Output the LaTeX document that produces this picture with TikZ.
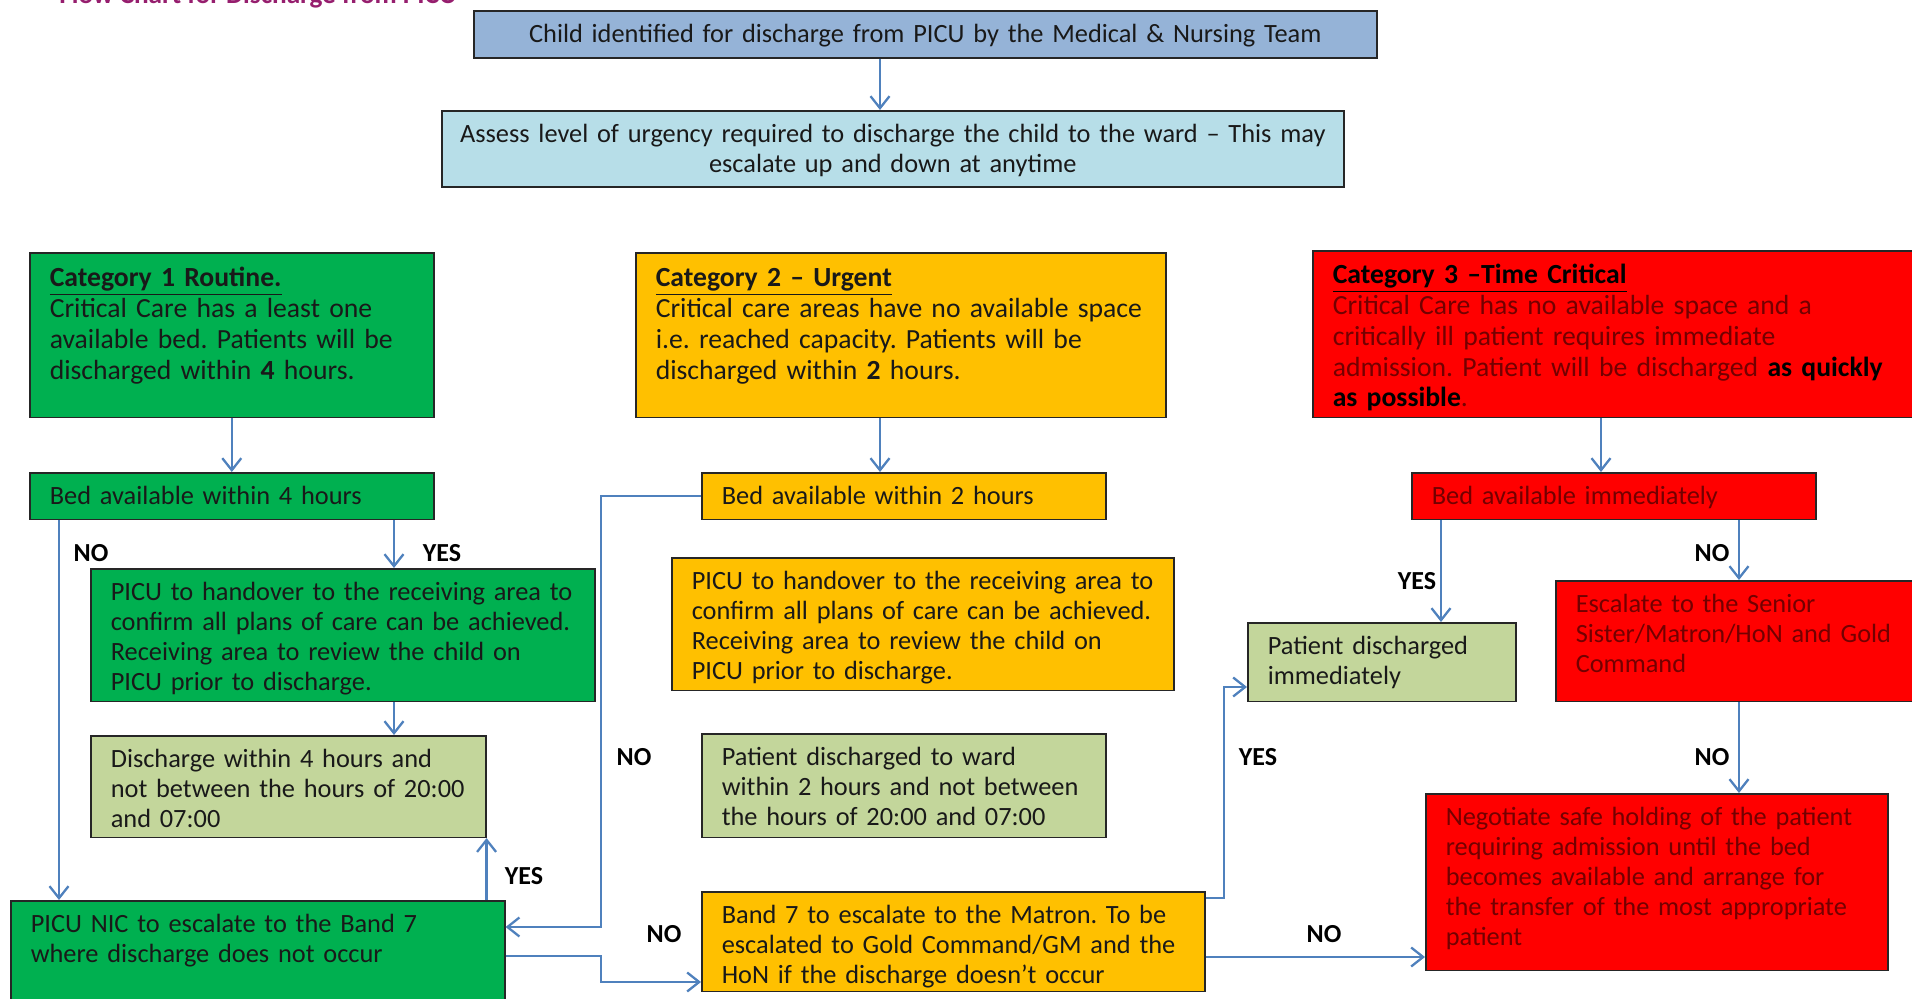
\documentclass[tikz,border=0pt]{standalone}
\usepackage{fontspec}
\setmainfont{Carlito}
\usetikzlibrary{arrows.meta}
\frenchspacing

\definecolor{topblue}{RGB}{149,179,215}
\definecolor{paleblue}{RGB}{183,222,232}
\definecolor{catgreen}{RGB}{0,176,80}
\definecolor{catorange}{RGB}{255,192,0}
\definecolor{catred}{RGB}{255,0,0}
\definecolor{paleolive}{RGB}{195,214,155}
\definecolor{flowblue}{RGB}{79,129,189}
\definecolor{titlepurple}{RGB}{150,30,110}
\definecolor{darkred}{RGB}{115,0,0}

\newcommand{\boxlines}[1]{\begin{tabular}[t]{@{}l@{}}#1\end{tabular}}

\tikzset{
	box/.style={draw=black!85,line width=0.9pt,anchor=north west,align=left,
		inner xsep=0.4cm,inner ysep=0.1cm,text height=0.53cm,text=black!90,
		font=\fontsize{15}{17.1}\selectfont},
	gbox/.style={box,fill=catgreen},
	obox/.style={box,fill=catorange},
	rbox/.style={box,fill=catred,text=darkred},
	lbox/.style={box,fill=paleolive},
	catfont/.style={font=\fontsize{15.75}{17.5}\selectfont},
	lbl/.style={font=\fontsize{14.8}{17}\selectfont\bfseries,inner sep=0pt},
	link/.style={->,draw=flowblue,line width=1.3pt}
}

\begin{document}
\begin{tikzpicture}[>/.tip={Straight Barb[length=2.4mm,width=3.8mm]}]
	\path[use as bounding box,fill=white] (0,0) rectangle (38.24,19.96);
	\draw (1.18,19.88) node(title) [anchor=base west,text=titlepurple,font=\fontsize{15.5}{17}\selectfont\bfseries,inner sep=0pt] {Flow Chart for Discharge from PICU};

	\draw (9.46,19.76) node(top) [box,fill=topblue,align=center,inner xsep=0.1cm,text width=17.86cm,text depth=0.22cm] {Child identified for discharge from PICU by the Medical \& Nursing Team};
	\draw (8.82,17.76) node(assess) [box,fill=paleblue,align=center,inner xsep=0.1cm,text width=17.84cm,text depth=0.80cm] {Assess level of urgency required to discharge the child to the ward -- This may\\escalate up and down at anytime};

	\draw (0.58,14.92) node(cat1) [gbox,catfont,text width=7.28cm,text height=0.58cm,text depth=2.51cm] {\boxlines{\underline{\textbf{Category 1 Routine.}}\\Critical Care has a least one\\available bed. Patients will be\\discharged within \textbf{4} hours.}};
	\draw (12.7,14.92) node(cat2) [obox,catfont,text width=9.8cm,text height=0.58cm,text depth=2.51cm] {\boxlines{\underline{\textbf{Category 2 -- Urgent}}\\Critical care areas have no available space\\i.e. reached capacity. Patients will be\\discharged within \textbf{2} hours.}};
	\draw (26.24,14.96) node(cat3) [rbox,catfont,text width=11.66cm,text height=0.56cm,text depth=2.57cm] {\boxlines{\textcolor{black}{\underline{\textbf{Category 3 --Time Critical}}}\\Critical Care has no available space and a\\critically ill patient requires immediate\\admission. Patient will be discharged \textcolor{black}{\textbf{as quickly}}\\\textcolor{black}{\textbf{as possible}}.}};

	\draw (0.58,10.52) node(bed1) [gbox,text width=7.28cm,text depth=0.20cm] {\boxlines{Bed available within 4 hours}};
	\draw (14.02,10.52) node(bed2) [obox,text width=7.28cm,text depth=0.20cm] {\boxlines{Bed available within 2 hours}};
	\draw (28.22,10.52) node(bed3) [rbox,text width=7.28cm,text depth=0.20cm] {\boxlines{Bed available immediately}};

	\draw (1.8,8.6) node(hand1) [gbox,text width=9.28cm,text depth=1.92cm] {\boxlines{PICU to handover to the receiving area to\\confirm all plans of care can be achieved.\\Receiving area to review the child on\\PICU prior to discharge.}};
	\draw (1.8,5.26) node(disc4) [lbox,text width=7.1cm,text depth=1.30cm] {\boxlines{Discharge within 4 hours and\\not between the hours of 20:00\\and 07:00}};
	\draw (0.2,1.96) node(nic) [gbox,text width=9.08cm,text depth=1.68cm] {\boxlines{PICU NIC to escalate to the Band 7\\where discharge does not occur}};

	\draw (13.42,8.82) node(hand2) [obox,text width=9.24cm,text depth=1.92cm] {\boxlines{PICU to handover to the receiving area to\\confirm all plans of care can be achieved.\\Receiving area to review the child on\\PICU prior to discharge.}};
	\draw (14.02,5.3) node(pat2) [lbox,text width=7.28cm,text depth=1.34cm] {\boxlines{Patient discharged to ward\\within 2 hours and not between\\the hours of 20:00 and 07:00}};
	\draw (14.02,2.14) node(band7) [obox,text width=9.26cm,text depth=1.26cm] {\boxlines{Band 7 to escalate to the Matron. To be\\escalated to Gold Command/GM and the\\HoN if the discharge doesn't occur}};

	\draw (24.94,7.52) node(patimm) [lbox,text width=4.56cm,text depth=0.84cm] {\boxlines{Patient discharged\\immediately}};
	\draw (31.1,8.36) node(escal) [rbox,text width=6.8cm,text depth=1.68cm] {\boxlines{Escalate to the Senior\\Sister/Matron/HoN and Gold\\Command}};
	\draw (28.5,4.1) node(negot) [rbox,text width=8.44cm,text depth=2.80cm] {\boxlines{Negotiate safe holding of the patient\\requiring admission until the bed\\becomes available and arrange for\\the transfer of the most appropriate\\patient}};

	\coordinate (cA) at (1.18,0);
	\coordinate (cB) at (7.88,0);
	\coordinate (mid) at (17.6,0);
	\coordinate (cE) at (28.82,0);
	\coordinate (cF) at (32.02,0);
	\coordinate (cG) at (34.78,0);
	\coordinate (k1) at (12.02,1.42);
	\coordinate (k2) at (12.02,0.84);
	\coordinate (k3) at (12.02,0.32);
	\coordinate (k4) at (24.48,2.0);
	\coordinate (k5) at (24.48,6.22);
	\coordinate (k6) at (26,0.82);

	\draw[link] (top.south -| mid) -- (assess.north -| mid);
	\draw[link] (cat1) -- (bed1);
	\draw[link] (cat2.south -| mid) -- (bed2.north -| mid);
	\draw[link] (cat3.south -| cF) -- (bed3.north -| cF);
	\draw[link] (bed1.south -| cA) -- (nic.north -| cA);
	\draw[link] (bed1.south -| cB) -- (hand1.north -| cB);
	\draw[link] (hand1.south -| cB) -- (disc4.north -| cB);
	\draw[link] (nic.north -| disc4.east) -- (disc4.south east);
	\draw[link] (bed2.west) -| (k1) -- (k1 -| nic.east);
	\draw[link] (k2 -| nic.east) -- (k2) -- (k3) -- (k3 -| band7.west);
	\draw[link] (k4 -| band7.east) -- (k4) -- (k5) -- (k5 -| patimm.west);
	\draw[link] (k6 -| band7.east) -- (k6 -| negot.west);
	\draw[link] (bed3.south -| cE) -- (patimm.north -| cE);
	\draw[link] (bed3.south -| cG) -- (escal.north -| cG);
	\draw[link] (escal.south -| cG) -- (negot.north -| cG);

	\node[lbl] (no1) at (1.82,8.9) {NO};
	\node[lbl] (yes1) at (8.84,8.9) {YES};
	\node[lbl] (yes2) at (10.48,2.44) {YES};
	\node[lbl] (no2) at (12.68,4.82) {NO};
	\node[lbl] (no3) at (13.28,1.28) {NO};
	\node[lbl] (yes3) at (25.16,4.82) {YES};
	\node[lbl] (no4) at (26.48,1.28) {NO};
	\node[lbl] (yes4) at (28.34,8.34) {YES};
	\node[lbl] (no5) at (34.24,8.9) {NO};
	\node[lbl] (no6) at (34.24,4.82) {NO};
\end{tikzpicture}
\end{document}
